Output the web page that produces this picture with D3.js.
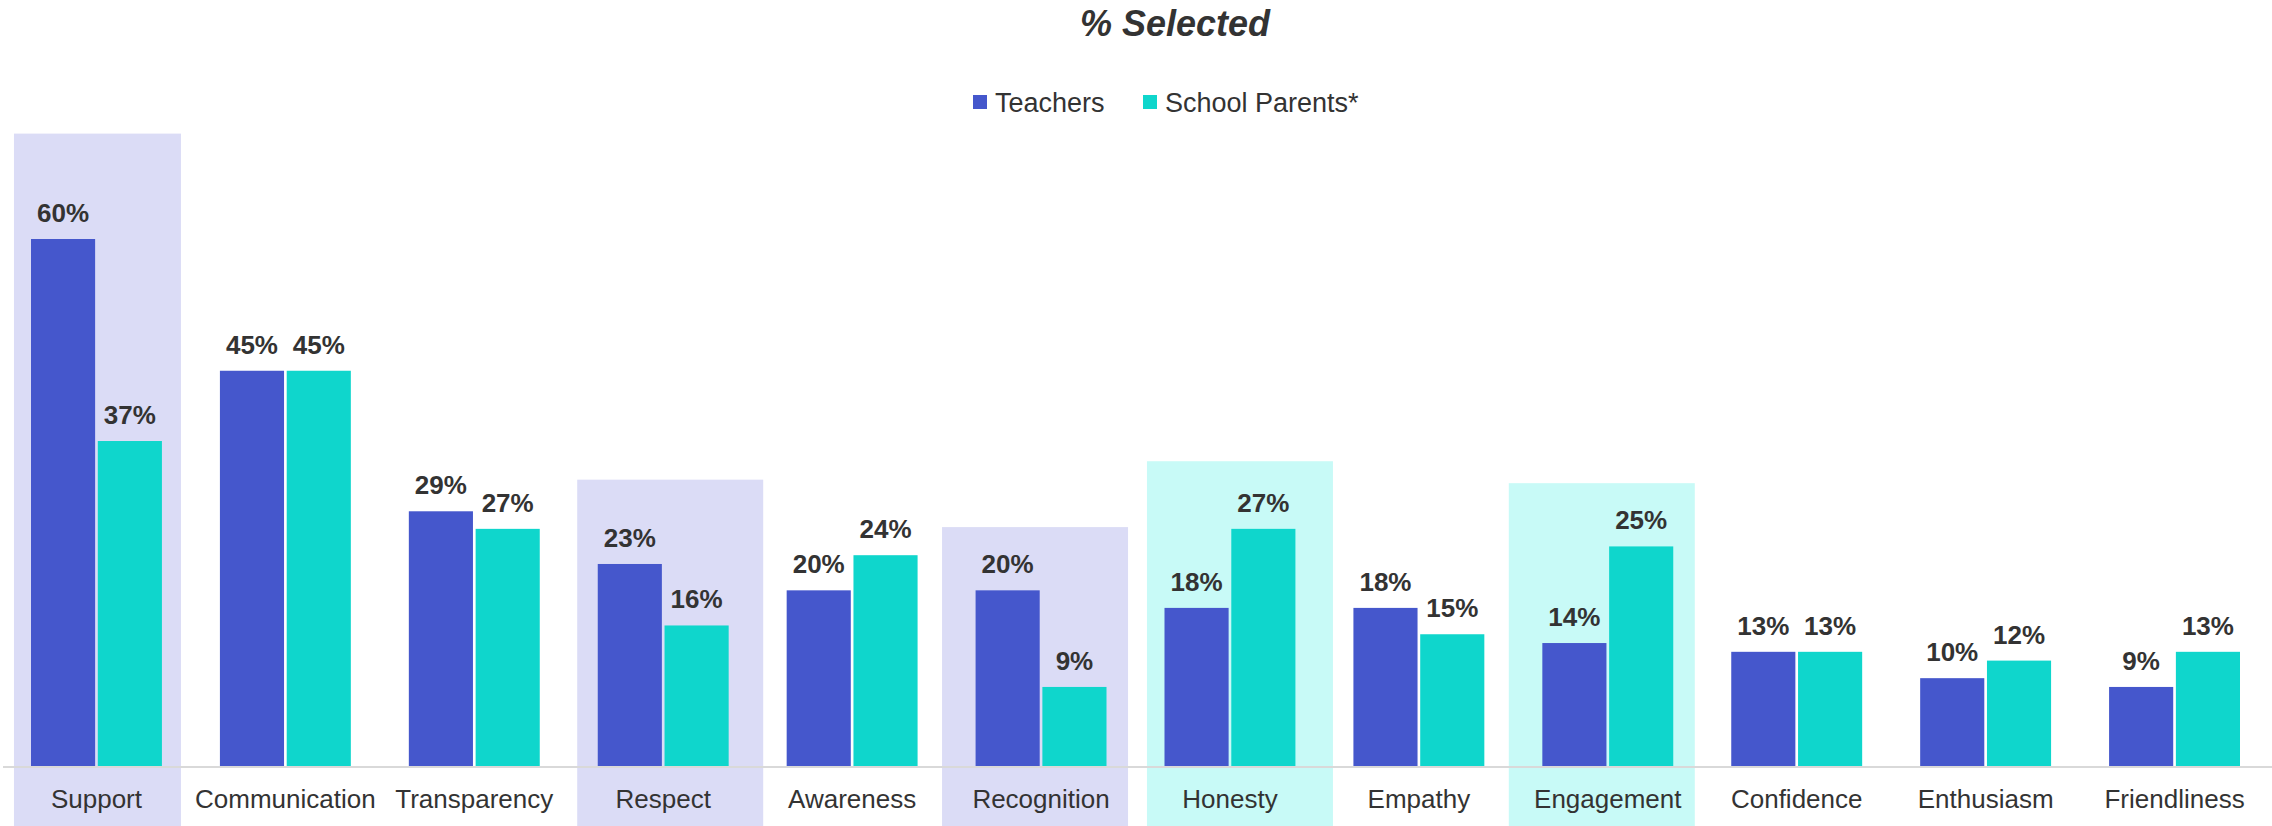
<!DOCTYPE html>
<meta charset="utf-8">
<title>% Selected</title>
<style>
body {
  margin: 0;
  background: #fff;
}
text {
  font-family: "Liberation Sans", Arial, sans-serif;
  fill: #333;
}
.title {
  font-size: 36px;
  font-weight: bold;
  font-style: italic;
}
.value {
  font-size: 26px;
  font-weight: bold;
}
.cat {
  font-size: 26px;
}
.legend text {
  font-size: 27px;
}
</style>
<svg></svg>
<script src="https://cdn.jsdelivr.net/npm/d3@7"></script>
<script>
// data
var categories = ["Support", "Communication", "Transparency", "Respect", "Awareness", "Recognition",
                  "Honesty", "Empathy", "Engagement", "Confidence", "Enthusiasm", "Friendliness"];
var seriesNames = ["Teachers", "School Parents*"];
var teachers = [60, 45, 29, 23, 20, 20, 18, 18, 14, 13, 10, 9];
var parents = [37, 45, 27, 16, 24, 9, 27, 15, 25, 13, 12, 13];
// highlighted categories: which series colour and how high the shading reaches (in %)
var highlightCats = ["Support", "Respect", "Recognition", "Honesty", "Engagement"];
var highlightKind = ["Teachers", "Teachers", "Teachers", "School Parents*", "School Parents*"];
var highlightTop = [72, 32.6, 27.2, 34.7, 32.2];

var width = 2272,
    height = 826;
var colors = {"Teachers": "#4557cc", "School Parents*": "#0fd6cc"};
var shade = {"Teachers": "#dbdcf6", "School Parents*": "#c8faf7"};
// hand-placed shading boxes are slightly off-centre in the original
var boxWidth = [167, 186, 186, 186, 186];
var boxShift = [1, 7, -6, 10, -6];

var svg = d3.select("svg")
    .attr("width", width)
    .attr("height", height);

var x = d3.scaleBand()
    .domain(categories)
    .range([2, 2269]);
var x1 = d3.scaleBand()
    .domain(seriesNames)
    .range([29, x.bandwidth() - 29])
    .paddingInner(0.04);
var y = d3.scaleLinear()
    .domain([0, 60])
    .range([766, 239]);

var rows = categories.map(function(c, i) {
  return {cat: c, values: [
    {key: "Teachers", value: teachers[i]},
    {key: "School Parents*", value: parents[i]}
  ]};
});

// shaded highlight boxes
svg.append("g").selectAll("rect")
    .data(highlightCats)
  .enter().append("rect")
    .attr("x", function(d, i) { return x(d) + x.bandwidth() / 2 - boxWidth[i] / 2 + boxShift[i]; })
    .attr("width", function(d, i) { return boxWidth[i]; })
    .attr("y", function(d, i) { return y(highlightTop[i]); })
    .attr("height", function(d, i) { return height - y(highlightTop[i]); })
    .style("fill", function(d, i) { return shade[highlightKind[i]]; });

// title
svg.append("text")
    .attr("class", "title")
    .attr("x", 1175)
    .attr("y", 36)
    .attr("text-anchor", "middle")
    .text("% Selected");

// legend
var legend = svg.append("g").attr("class", "legend");
var legendX = [973, 1143];
seriesNames.forEach(function(s, i) {
  legend.append("rect")
      .attr("x", legendX[i])
      .attr("y", 95)
      .attr("width", 14)
      .attr("height", 14)
      .style("fill", colors[s]);
  legend.append("text")
      .attr("x", legendX[i] + 22)
      .attr("y", 112)
      .text(s);
});

// bars
var group = svg.append("g").selectAll("g")
    .data(rows)
  .enter().append("g")
    .attr("transform", function(d) { return "translate(" + x(d.cat) + ",0)"; });

group.selectAll("rect")
    .data(function(d) { return d.values; })
  .enter().append("rect")
    .attr("x", function(d) { return x1(d.key); })
    .attr("width", x1.bandwidth())
    .attr("y", function(d) { return y(d.value); })
    .attr("height", function(d) { return y(0) - y(d.value); })
    .style("fill", function(d) { return colors[d.key]; });

group.selectAll("text")
    .data(function(d) { return d.values; })
  .enter().append("text")
    .attr("class", "value")
    .attr("x", function(d) { return x1(d.key) + x1.bandwidth() / 2; })
    .attr("y", function(d) { return y(d.value) - 17; })
    .attr("text-anchor", "middle")
    .text(function(d) { return d.value + "%"; });

// baseline + category labels
svg.append("line")
    .attr("x1", 3)
    .attr("x2", width)
    .attr("y1", y(0) + 1)
    .attr("y2", y(0) + 1)
    .style("stroke", "#d9d9d9")
    .style("stroke-width", 2);

var xAxis = d3.axisBottom(x).tickSize(0).tickPadding(22);
svg.append("g")
    .attr("transform", "translate(0," + (y(0) + 2) + ")")
    .call(xAxis)
    .call(function(g) { g.select(".domain").remove(); })
    .selectAll("text")
    .attr("class", "cat")
    .attr("dy", "0.71em")
    .style("font-family", null);
</script>
